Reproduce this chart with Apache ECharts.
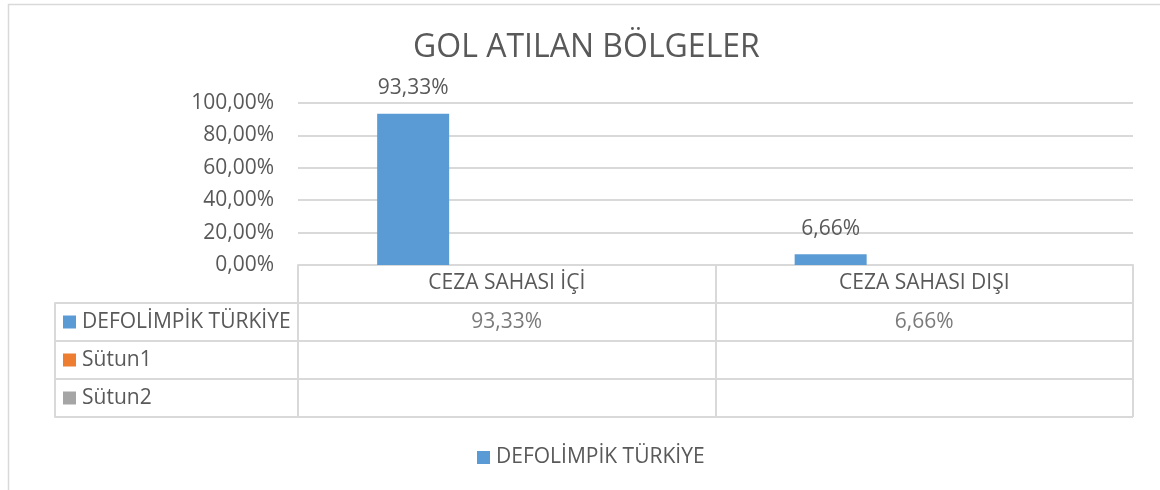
<!DOCTYPE html>
<html>
<head>
<meta charset="utf-8">
<script src="https://cdn.jsdelivr.net/npm/echarts@6/dist/echarts.min.js"></script>
<style>
html,body{margin:0;padding:0;background:#fff;}
#c{width:1160px;height:490px;}
</style>
</head>
<body>
<div id="c"></div>
<script>
const titleText = 'GOL ATILAN BÖLGELER';
const categories = ['CEZA SAHASI İÇİ', 'CEZA SAHASI DIŞI'];
const seriesNames = ['DEFOLİMPİK TÜRKİYE', 'Sütun1', 'Sütun2'];
const seriesColors = ['#5b9bd5', '#ed7d31', '#a5a5a5'];
const defolimpikValues = [93.33, 6.66];
const sutun1Values = [null, null];
const sutun2Values = [null, null];
const yTicks = [0, 20, 40, 60, 80, 100];

const FONT = 'Open Sans';
const FS = 21;
const TXT = '#595959';
const LINE = '#d9d9d9';

function fmtPct(v) {
  return v.toFixed(2).replace('.', ',') + '%';
}

const allSeriesValues = [defolimpikValues, sutun1Values, sutun2Values];

const tableCells = [];
allSeriesValues.forEach(function (vals, r) {
  vals.forEach(function (v, c) {
    if (v !== null) tableCells.push({ value: [c, r], text: fmtPct(v) });
  });
});

const rich = {};
seriesColors.forEach(function (col, i) {
  rich['sq' + i] = { width: 13, height: 13, backgroundColor: col };
  rich['t' + i] = { fontFamily: FONT, fontSize: FS, color: TXT, padding: [0, 0, 0, 6] };
});

const chart = echarts.init(document.getElementById('c'), null, { renderer: 'canvas' });

const option = {
  backgroundColor: '#fff',
  animation: false,
  textStyle: { fontFamily: FONT },
  title: {
    text: titleText,
    left: 408,
    top: 27,
    textStyle: { fontFamily: FONT, fontSize: 32, fontWeight: 'normal', color: TXT }
  },
  legend: {
    data: [seriesNames[0]],
    left: 472,
    top: 442,
    icon: 'rect',
    itemWidth: 13,
    itemHeight: 13,
    itemGap: 6,
    textStyle: { fontFamily: FONT, fontSize: FS, color: TXT, padding: [0, 0, 0, 1] }
  },
  graphic: [
    {
      type: 'rect',
      shape: { x: 8.5, y: 4.5, width: 1170, height: 500 },
      style: { fill: 'none', stroke: LINE, lineWidth: 1.5 },
      silent: true,
      z: -10
    }
  ],
  grid: [
    { left: 298, right: 27, top: 103, height: 162 },
    { left: 298, right: 27, top: 303, height: 114 }
  ],
  xAxis: [
    {
      type: 'category',
      gridIndex: 0,
      data: categories,
      axisLine: { lineStyle: { color: LINE, width: 2 } },
      axisTick: { show: true, length: 38, lineStyle: { color: LINE, width: 2 } },
      axisLabel: { fontFamily: FONT, fontSize: FS, color: TXT, margin: 8 },
      splitLine: { show: false }
    },
    {
      type: 'category',
      gridIndex: 1,
      data: categories,
      position: 'top',
      axisLine: { show: false },
      axisTick: { show: false },
      axisLabel: { show: false },
      splitLine: { show: true, lineStyle: { color: LINE, width: 2 } }
    }
  ],
  yAxis: [
    {
      type: 'value',
      gridIndex: 0,
      min: 0,
      max: 100,
      interval: 20,
      axisLine: { show: false },
      axisTick: { show: false },
      axisLabel: {
        fontFamily: FONT, fontSize: FS, color: TXT, margin: 24,
        formatter: function (v) { return fmtPct(v); }
      },
      splitLine: { show: true, lineStyle: { color: LINE, width: 2 } }
    },
    {
      type: 'category',
      gridIndex: 1,
      inverse: true,
      data: seriesNames,
      axisLine: { show: true, lineStyle: { color: LINE, width: 2 } },
      axisTick: { show: true, length: 243, lineStyle: { color: LINE, width: 2 } },
      splitLine: { show: true, lineStyle: { color: LINE, width: 2 } },
      axisLabel: {
        align: 'left',
        margin: 235,
        formatter: function (v, i) { return '{sq' + i + '|}{t' + i + '|' + v + '}'; },
        rich: rich
      }
    },
    {
      type: 'category',
      gridIndex: 1,
      inverse: true,
      data: seriesNames,
      position: 'left',
      offset: 243,
      axisLine: { show: true, lineStyle: { color: LINE, width: 2 } },
      axisTick: { show: false },
      axisLabel: { show: false },
      splitLine: { show: false }
    }
  ],
  series: [
    {
      name: seriesNames[0],
      type: 'bar',
      xAxisIndex: 0,
      yAxisIndex: 0,
      data: defolimpikValues,
      barWidth: 72,
      barGap: '30%',
      itemStyle: { color: seriesColors[0] },
      label: {
        show: true,
        position: 'top',
        distance: 15,
        fontFamily: FONT, fontSize: FS, color: TXT,
        formatter: function (p) { return fmtPct(p.value); }
      }
    },
    {
      name: seriesNames[1],
      type: 'bar',
      xAxisIndex: 0,
      yAxisIndex: 0,
      data: sutun1Values,
      barWidth: 72,
      barGap: '30%',
      itemStyle: { color: seriesColors[1] }
    },
    {
      name: seriesNames[2],
      type: 'bar',
      xAxisIndex: 0,
      yAxisIndex: 0,
      data: sutun2Values,
      barWidth: 72,
      barGap: '30%',
      itemStyle: { color: seriesColors[2] }
    },
    {
      name: 'table',
      type: 'scatter',
      xAxisIndex: 1,
      yAxisIndex: 1,
      symbolSize: 0,
      silent: true,
      data: tableCells,
      label: {
        show: true,
        position: 'inside',
        fontFamily: FONT, fontSize: FS, color: TXT,
        formatter: function (p) { return p.data.text; }
      }
    }
  ]
};

chart.setOption(option);
</script>
</body>
</html>
